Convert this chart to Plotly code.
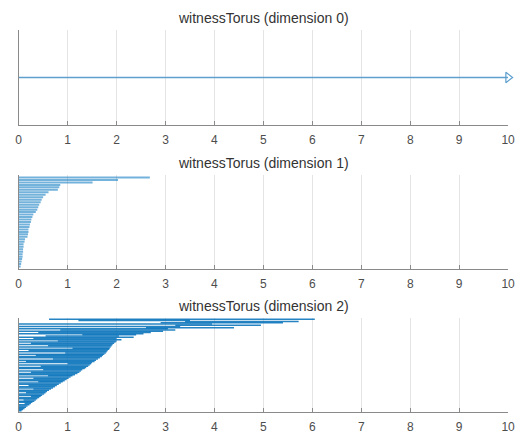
import math
import plotly.graph_objects as go

# Persistence intervals (birth, death) per homology dimension, listed top to bottom.
dim0_birth = [0.0]
dim0_death = [math.inf]

dim1_birth = [0.0, 0.0, 0.0, 0.0, 0.0, 0.0, 0.0, 0.0, 0.0, 0.0,
              0.0, 0.0, 0.0, 0.0, 0.0, 0.0, 0.0, 0.0, 0.0, 0.0,
              0.0, 0.0, 0.0, 0.0, 0.0, 0.0, 0.0, 0.0, 0.0, 0.0,
              0.0, 0.0, 0.0, 0.0, 0.0, 0.0, 0.0]
dim1_death = [2.68, 2.03, 1.51, 0.85, 0.83, 0.80, 0.61, 0.55, 0.50, 0.47,
              0.45, 0.42, 0.40, 0.38, 0.35, 0.30, 0.28, 0.26, 0.25, 0.23,
              0.22, 0.20, 0.20, 0.19, 0.18, 0.13, 0.12, 0.10, 0.10, 0.09,
              0.09, 0.08, 0.08, 0.07, 0.06, 0.05, 0.04]

dim2_birth = [0.62, 1.22, 3.40, 2.90, 0.00, 3.20, 0.00, 2.60, 0.00, 0.85,
              0.00, 0.40, 0.00, 1.30, 0.55, 0.00, 0.30, 0.00, 0.80, 0.00,
              0.25, 0.00, 0.60, 0.00, 1.10, 0.00, 0.20, 0.00, 0.95, 0.00,
              0.35, 0.00, 0.00, 0.70, 0.00, 0.15, 0.00, 1.00, 0.00, 0.45,
              0.00, 0.00, 0.50, 0.00, 0.25, 0.00, 0.00, 0.60, 0.00, 0.30,
              0.00, 0.00, 0.40, 0.00, 0.00, 0.20, 0.00, 0.00, 0.30, 0.00,
              0.00, 0.15, 0.00, 0.00, 0.25, 0.00, 0.00, 0.10, 0.00, 0.00,
              0.12, 0.00, 0.00, 0.00, 0.00, 0.00, 0.00]
dim2_death = [6.05, 3.50, 5.72, 5.40, 3.95, 4.95, 3.30, 4.40, 3.05, 3.20,
              2.95, 2.70, 2.55, 2.40, 2.05, 2.35, 2.00, 2.10, 2.00, 1.98,
              1.95, 1.92, 1.90, 1.88, 1.86, 1.85, 1.82, 1.80, 1.78, 1.75,
              1.72, 1.70, 1.66, 1.62, 1.58, 1.55, 1.50, 1.48, 1.45, 1.42,
              1.38, 1.35, 1.30, 1.27, 1.24, 1.20, 1.15, 1.10, 1.06, 1.02,
              0.98, 0.94, 0.90, 0.86, 0.82, 0.78, 0.74, 0.70, 0.66, 0.62,
              0.58, 0.55, 0.52, 0.48, 0.45, 0.42, 0.38, 0.35, 0.32, 0.28,
              0.25, 0.22, 0.18, 0.15, 0.12, 0.09, 0.06]

titles = ["witnessTorus (dimension 0)",
          "witnessTorus (dimension 1)",
          "witnessTorus (dimension 2)"]
x_ticks = [0, 1, 2, 3, 4, 5, 6, 7, 8, 9, 10]
X_MAX = 10

W, H = 521, 437
# panel pixel boxes: (top, bottom)
panel_px = [(30, 125), (175, 269), (318, 412)]
x_left, x_right = 16, 515

LINE_GREY = "#8a8a8a"
FONT = "Liberation Sans, Arial, sans-serif"

# per-panel bar styling: (colour, width)
styles = [("#5f9fce", 1.3),
          ("rgba(0,114,189,0.55)", 2.0),
          ("rgba(0,110,185,0.85)", 1.5)]

fig = go.Figure()

panels = [(dim0_birth, dim0_death),
          (dim1_birth, dim1_death),
          (dim2_birth, dim2_death)]

for k, (births, deaths) in enumerate(panels):
    n = len(births)
    color, lw = styles[k]
    xa = "x" if k == 0 else f"x{k + 1}"
    ya = "y" if k == 0 else f"y{k + 1}"
    for i, (b, d) in enumerate(zip(births, deaths)):
        yv = n - i
        end = X_MAX if math.isinf(d) else d
        fig.add_trace(go.Scatter(
            x=[b, end], y=[yv, yv], mode="lines",
            line=dict(color=color, width=lw),
            xaxis=xa, yaxis=ya, hoverinfo="skip", showlegend=False))
        if math.isinf(d):
            # infinite interval: arrow head at the right end of the axis
            fig.add_trace(go.Scatter(
                x=[end], y=[yv], mode="markers",
                marker=dict(symbol="triangle-right-open", size=9,
                            color="#5f9fce", line=dict(width=1.2)),
                cliponaxis=False,
                xaxis=xa, yaxis=ya, hoverinfo="skip", showlegend=False))

    top, bot = panel_px[k]
    xkey = "xaxis" if k == 0 else f"xaxis{k + 1}"
    ykey = "yaxis" if k == 0 else f"yaxis{k + 1}"
    fig.update_layout(**{
        xkey: dict(domain=[x_left / W, x_right / W], range=[0, X_MAX],
                   anchor=ya, tickvals=x_ticks, ticktext=[str(t) for t in x_ticks],
                   ticks="inside", ticklen=4, tickwidth=1, tickcolor=LINE_GREY,
                   showline=True, linecolor=LINE_GREY, linewidth=1,
                   showgrid=True, gridcolor="#e4e4e4", gridwidth=1,
                   zeroline=False, ticklabelstandoff=4,
                   ticklabeloverflow="allow",
                   tickfont=dict(family=FONT, size=12, color="#4d4d4d")),
        ykey: dict(domain=[1 - bot / H, 1 - top / H], range=[0, n + 1],
                   anchor=xa, showline=True, linecolor=LINE_GREY, linewidth=1,
                   showticklabels=False, ticks="", showgrid=False, zeroline=False),
    })
    fig.add_annotation(text=titles[k], xref="paper", yref="paper",
                       x=(x_left + x_right) / 2 / W, y=1 - (top - 12) / H,
                       xanchor="center", yanchor="middle", showarrow=False,
                       font=dict(family=FONT, size=14, color="#333333"))

fig.update_layout(width=W, height=H, margin=dict(l=0, r=0, t=0, b=0),
                  paper_bgcolor="white", plot_bgcolor="white")

fig.write_html("out.html")
